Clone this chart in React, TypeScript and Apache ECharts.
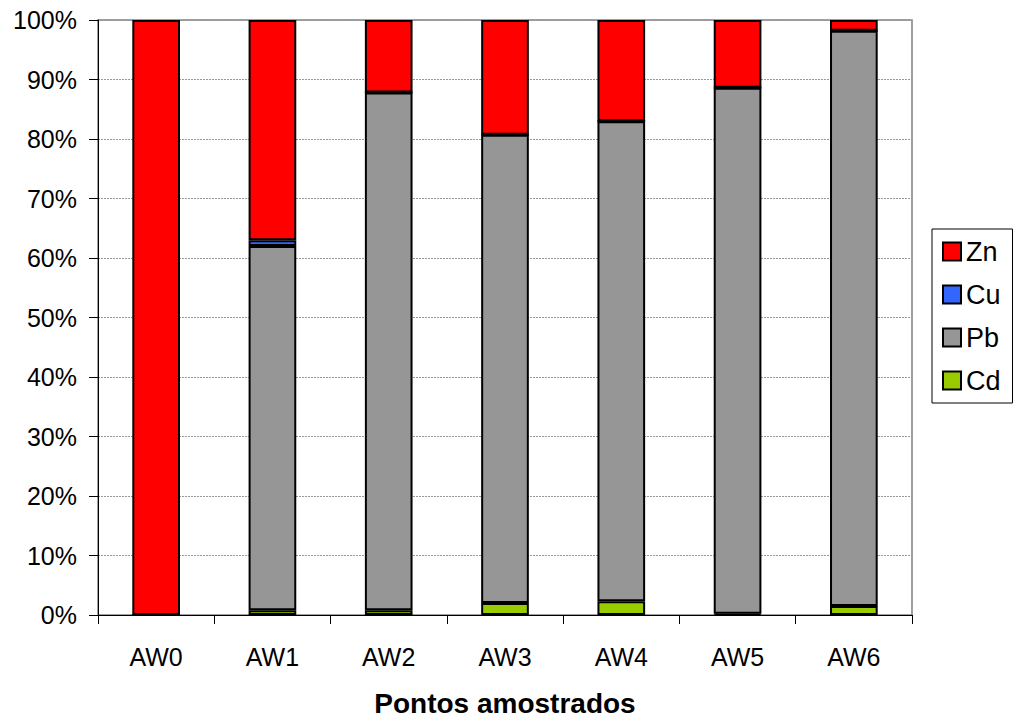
import React, { useEffect, useRef } from "react";
import * as echarts from "echarts";

const categories = ["AW0", "AW1", "AW2", "AW3", "AW4", "AW5", "AW6"];
const cdValues = [0, 0.8, 0.8, 2.0, 2.3, 0.2, 1.5];
const pbValues = [0, 61.2, 87.0, 78.7, 80.7, 88.4, 96.7];
const cuValues = [0, 1.0, 0, 0, 0, 0, 0];
const znValues = [100, 37.0, 12.2, 19.3, 17.0, 11.4, 1.8];
const yTicks = [0, 10, 20, 30, 40, 50, 60, 70, 80, 90, 100];
const xTitle = "Pontos amostrados";

const FONT = "'Liberation Sans', Arial, sans-serif";

export default function App() {
  const ref = useRef<HTMLDivElement>(null);
  useEffect(() => {
    document.body.style.margin = "0";
    document.body.style.overflow = "hidden";
    if (!ref.current) return;
    const chart = echarts.init(ref.current, null, { renderer: "svg" });
    const mk = (name: string, data: number[], color: string) => ({
      name,
      type: "bar",
      stack: "total",
      data,
      barWidth: "41%",
      itemStyle: { color, borderColor: "#000", borderWidth: 2 },
    });
    chart.setOption({
      animation: false,
      backgroundColor: "#fff",
      textStyle: { fontFamily: FONT },
      grid: {
        left: 98,
        right: 104,
        top: 20,
        bottom: 104,
        show: true,
        borderColor: "#808080",
        borderWidth: 1.5,
      },
      legend: {
        orient: "vertical",
        left: 932,
        top: 229,
        padding: [9, 12, 9, 10],
        borderColor: "#000",
        borderWidth: 1,
        itemWidth: 18,
        itemHeight: 18,
        itemGap: 16,
        icon: "rect",
        data: ["Zn", "Cu", "Pb", "Cd"],
        textStyle: { fontSize: 27, color: "#000", fontFamily: FONT },
        itemStyle: { borderColor: "#000", borderWidth: 2 },
      },
      xAxis: {
        type: "category",
        data: categories,
        boundaryGap: true,
        axisLine: { lineStyle: { color: "#000", width: 1 } },
        axisTick: { show: true, length: 9, lineStyle: { color: "#000" } },
        axisLabel: { fontSize: 25, color: "#000", margin: 29, fontFamily: FONT },
        name: xTitle,
        nameLocation: "middle",
        nameGap: 74,
        nameTextStyle: { fontSize: 28, fontWeight: "bold", color: "#000", fontFamily: FONT },
      },
      yAxis: {
        type: "value",
        min: yTicks[0],
        max: yTicks[yTicks.length - 1],
        interval: 10,
        axisLine: { show: true, lineStyle: { color: "#000", width: 1 } },
        axisTick: { show: true, length: 9, lineStyle: { color: "#000" } },
        axisLabel: { fontSize: 25, color: "#000", margin: 21, formatter: "{value}%", fontFamily: FONT },
        splitLine: { show: true, lineStyle: { color: "#999", type: [2, 1], width: 1 } },
      },
      series: [
        mk("Cd", cdValues, "#99CC00"),
        mk("Pb", pbValues, "#969696"),
        mk("Cu", cuValues, "#3366FF"),
        mk("Zn", znValues, "#FF0000"),
      ],
    });
    return () => chart.dispose();
  }, []);
  return (
    <div
      ref={ref}
      style={{ position: "fixed", left: 0, top: 0, width: 1016, height: 722 }}
    />
  );
}
